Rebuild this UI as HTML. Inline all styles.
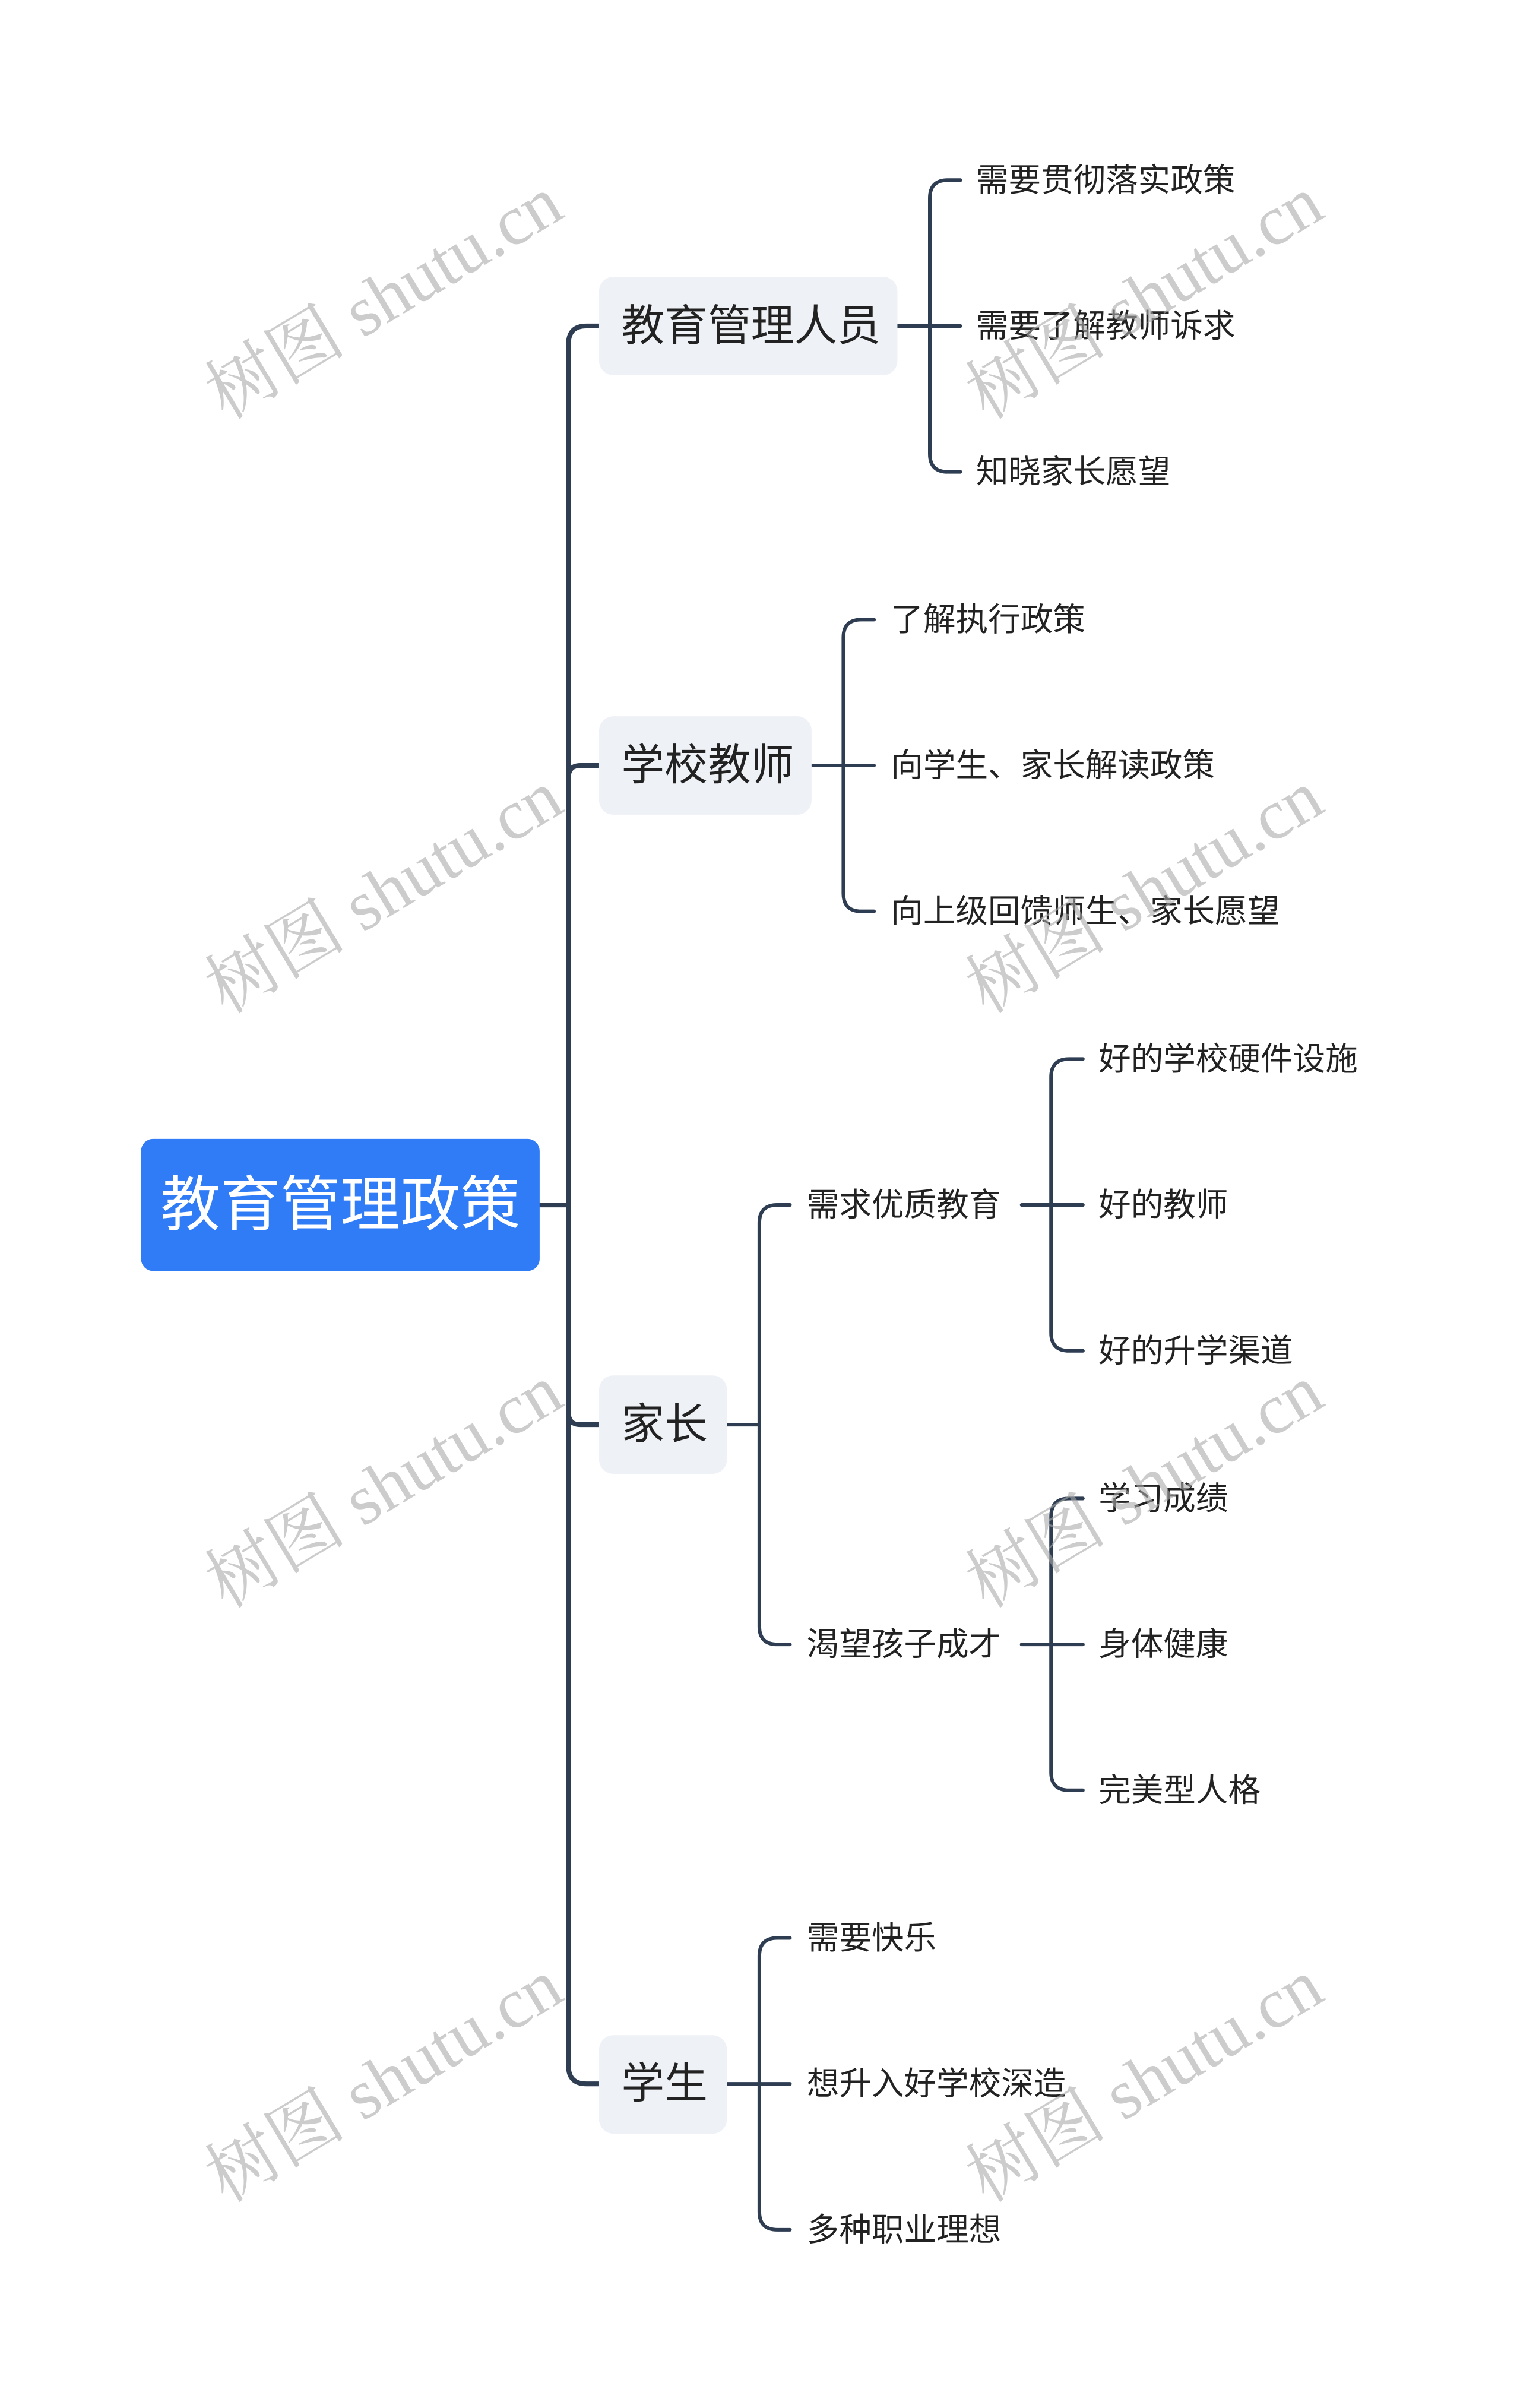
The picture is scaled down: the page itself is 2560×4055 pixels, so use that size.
<!DOCTYPE html>
<html><head><meta charset="utf-8"><style>html,body{margin:0;padding:0;background:#fff}svg{display:block}</style></head>
<body>
<svg width="2560" height="4055" viewBox="0 0 2560 4055" xmlns="http://www.w3.org/2000/svg" font-family="'Liberation Sans','Noto Sans CJK SC',sans-serif">
<g transform="scale(1.011)">
<g fill="none" stroke="#2e3d52" stroke-linecap="round">
<path stroke-width="8" d="M899 2007 H947 M998 543 H977 Q947 543 947 573 V3441 Q947 3471 977 3471 H998 M947 1295 Q947 1275 967 1275 H998 M947 2353 Q947 2373 967 2373 H998"/>
<g stroke-width="6">
<path d="M1495 543 H1600 M1600 300 H1579 Q1549 300 1549 330 V756 Q1549 786 1579 786 H1600"/>
<path d="M1352 1275 H1456 M1456 1032 H1435 Q1405 1032 1405 1062 V1488 Q1405 1518 1435 1518 H1456"/>
<path d="M1211 2373 H1265 M1316 2007 H1295 Q1265 2007 1265 2037 V2709 Q1265 2739 1295 2739 H1316"/>
<path d="M1702 2007 H1804 M1804 1764 H1781 Q1751 1764 1751 1794 V2220 Q1751 2250 1781 2250 H1804"/>
<path d="M1702 2739 H1804 M1804 2496 H1781 Q1751 2496 1751 2526 V2952 Q1751 2982 1781 2982 H1804"/>
<path d="M1211 3471 H1316 M1316 3228 H1295 Q1265 3228 1265 3258 V3684 Q1265 3714 1295 3714 H1316"/>
</g>
</g>
<rect x="235" y="1897" width="664" height="220" rx="20" fill="#2f7cf6"/>
<text x="567" y="2007" fill="#fff" font-size="100" text-anchor="middle" dominant-baseline="central">教育管理政策</text>
<g fill="#eef1f5">
<rect x="998" y="461" width="497" height="164" rx="24"/>
<rect x="998" y="1193" width="354" height="164" rx="24"/>
<rect x="998" y="2291" width="213" height="164" rx="24"/>
<rect x="998" y="3390" width="213" height="164" rx="24"/>
</g>
<g fill="#222" font-size="72" dominant-baseline="central">
<text x="1035" y="543">教育管理人员</text>
<text x="1035" y="1275">学校教师</text>
<text x="1035" y="2373">家长</text>
<text x="1035" y="3471">学生</text>
</g>
<g fill="#222" font-size="54" dominant-baseline="central">
<text x="1626" y="300">需要贯彻落实政策</text>
<text x="1626" y="543">需要了解教师诉求</text>
<text x="1626" y="786">知晓家长愿望</text>
<text x="1484" y="1032">了解执行政策</text>
<text x="1484" y="1275">向学生、家长解读政策</text>
<text x="1484" y="1518">向上级回馈师生、家长愿望</text>
<text x="1344" y="2007">需求优质教育</text>
<text x="1344" y="2739">渴望孩子成才</text>
<text x="1830" y="1764">好的学校硬件设施</text>
<text x="1830" y="2007">好的教师</text>
<text x="1830" y="2250">好的升学渠道</text>
<text x="1830" y="2496">学习成绩</text>
<text x="1830" y="2739">身体健康</text>
<text x="1830" y="2982">完美型人格</text>
<text x="1344" y="3228">需要快乐</text>
<text x="1344" y="3471">想升入好学校深造</text>
<text x="1344" y="3714">多种职业理想</text>
</g>
<g fill="#aaa" fill-opacity="0.6" font-size="118" font-family="'Liberation Serif','Noto Serif CJK SC',serif" text-anchor="middle">
<text transform="translate(660,530) rotate(-31)">树图 shutu.cn</text>
<text transform="translate(1927,530) rotate(-31)">树图 shutu.cn</text>
<text transform="translate(660,1520) rotate(-31)">树图 shutu.cn</text>
<text transform="translate(1927,1520) rotate(-31)">树图 shutu.cn</text>
<text transform="translate(660,2510) rotate(-31)">树图 shutu.cn</text>
<text transform="translate(1927,2510) rotate(-31)">树图 shutu.cn</text>
<text transform="translate(660,3500) rotate(-31)">树图 shutu.cn</text>
<text transform="translate(1927,3500) rotate(-31)">树图 shutu.cn</text>
</g>
</g>
</svg>
</body></html>
